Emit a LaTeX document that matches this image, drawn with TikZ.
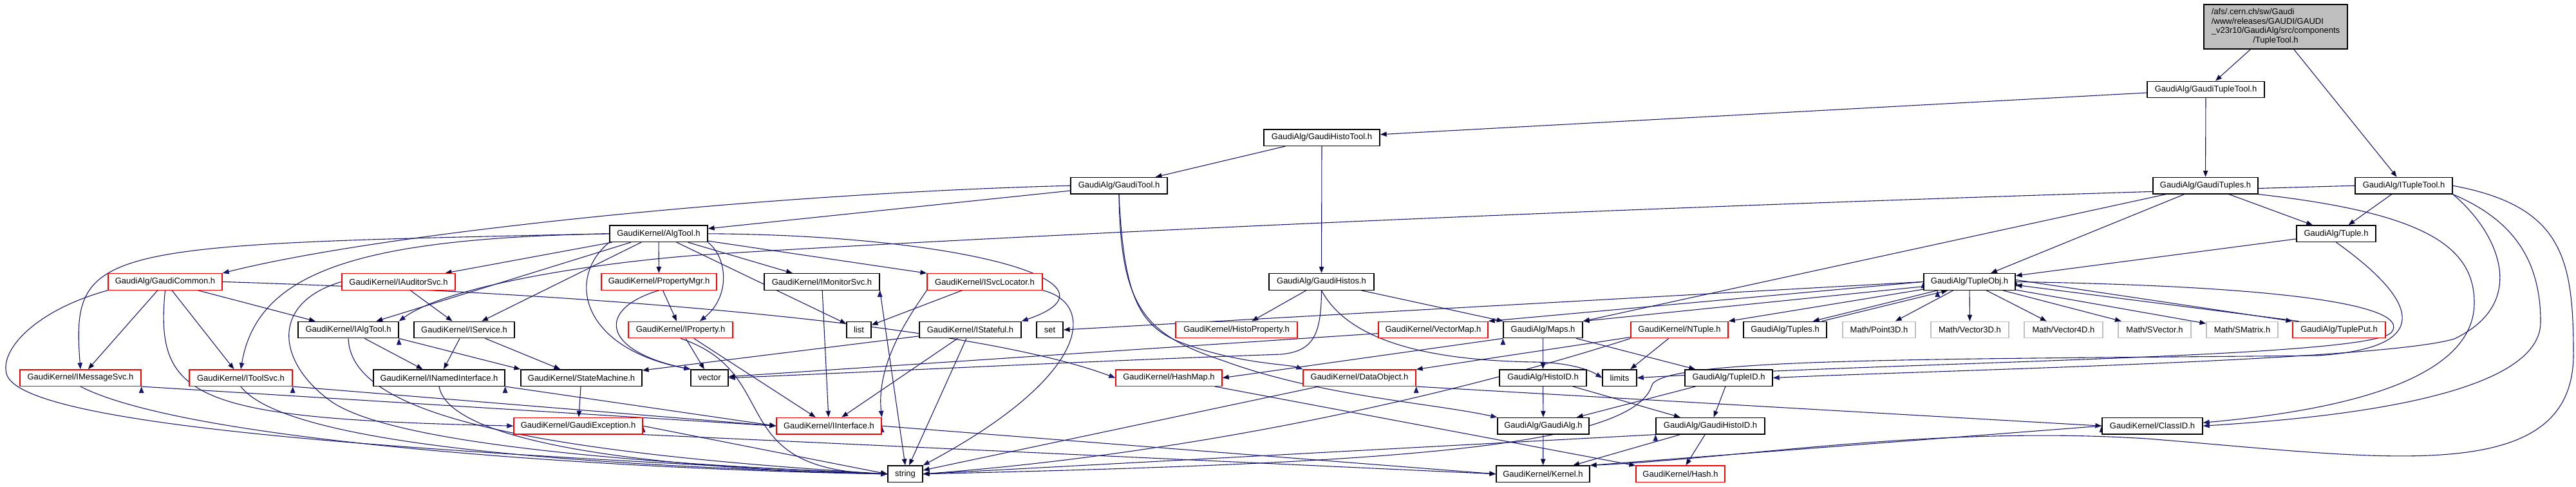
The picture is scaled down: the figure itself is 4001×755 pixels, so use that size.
\documentclass[tikz,border=0pt]{standalone}
\usepackage{fontspec}
\setmainfont{Liberation Sans}
\usetikzlibrary{arrows.meta,backgrounds}
\definecolor{edgeblue}{HTML}{191970}
\definecolor{grey75}{HTML}{BFBFBF}

\begin{document}
\begin{tikzpicture}[x=1pt,y=-1pt,
    hdr/.style={draw=black, line width=1.3pt, fill=white, inner sep=0pt,
      minimum height=25.5pt, font=\fontsize{13}{14.8}\selectfont},
    hdrcut/.style={hdr, draw=red},
    hdrext/.style={hdr, draw=grey75},
    inc/.style={draw=edgeblue, line width=1.1pt, -{Triangle[length=10pt,width=7.5pt]}}]
  \useasboundingbox (0,0) rectangle (4001,755);
  % root file
  \node[hdr, fill=grey75, minimum width=223, minimum height=69] (tupletool) at (3534.5,41.5)
    {\begin{tabular}{@{}l@{}}/afs/.cern.ch/sw/Gaudi\\/www/releases/GAUDI/GAUDI\\\_v23r10/GaudiAlg/src/components\\\multicolumn{1}{@{}c@{}}{/TupleTool.h}\end{tabular}};
  % GaudiAlg tools
  \node[hdr, minimum width=182] (gauditupletool) at (3426,139) {GaudiAlg/GaudiTupleTool.h};
  \node[hdr, minimum width=180] (gaudihistotool) at (2053,213.6) {GaudiAlg/GaudiHistoTool.h};
  \node[hdr, minimum width=150] (gauditool) at (1738,288.2) {GaudiAlg/GaudiTool.h};
  \node[hdr, minimum width=163] (gaudituples) at (3425.5,288.2) {GaudiAlg/GaudiTuples.h};
  \node[hdr, minimum width=151] (itupletool) at (3733.5,288.2) {GaudiAlg/ITupleTool.h};
  \node[hdr, minimum width=152] (algtool) at (1023,362.8) {GaudiKernel/AlgTool.h};
  \node[hdr, minimum width=123] (tuple) at (3628.5,362.8) {GaudiAlg/Tuple.h};
  % row 5
  \node[hdrcut, minimum width=177] (gaudicommon) at (256.5,437.4) {GaudiAlg/GaudiCommon.h};
  \node[hdrcut, minimum width=176] (iauditorsvc) at (619,437.4) {GaudiKernel/IAuditorSvc.h};
  \node[hdrcut, minimum width=179] (propertymgr) at (1023.5,437.4) {GaudiKernel/PropertyMgr.h};
  \node[hdr, minimum width=179] (imonitorsvc) at (1276.5,437.4) {GaudiKernel/IMonitorSvc.h};
  \node[hdrcut, minimum width=179] (isvclocator) at (1529.5,437.4) {GaudiKernel/ISvcLocator.h};
  \node[hdr, minimum width=163] (gaudihistos) at (2052.5,437.4) {GaudiAlg/GaudiHistos.h};
  \node[hdr, minimum width=142] (tupleobj) at (3059,437.4) {GaudiAlg/TupleObj.h};
  % row 6
  \node[hdr, minimum width=156] (ialgtool) at (541,512) {GaudiKernel/IAlgTool.h};
  \node[hdr, minimum width=156] (iservice) at (721,512) {GaudiKernel/IService.h};
  \node[hdrcut, minimum width=162] (iproperty) at (1057,512) {GaudiKernel/IProperty.h};
  \node[hdr, minimum width=38] (list) at (1334,512) {list};
  \node[hdr, minimum width=158] (istateful) at (1507,512) {GaudiKernel/IStateful.h};
  \node[hdr, minimum width=41] (set) at (1630.5,512) {set};
  \node[hdrcut, minimum width=189] (histoproperty) at (1920.5,512) {GaudiKernel/HistoProperty.h};
  \node[hdrcut, minimum width=170] (vectormap) at (2226,512) {GaudiKernel/VectorMap.h};
  \node[hdr, minimum width=123] (maps) at (2396.5,512) {GaudiAlg/Maps.h};
  \node[hdrcut, minimum width=151] (ntuple) at (2608.5,512) {GaudiKernel/NTuple.h};
  \node[hdr, minimum width=129] (tuples) at (2772.5,512) {GaudiAlg/Tuples.h};
  \node[hdrext, minimum width=113] (point3d) at (2918.5,512) {Math/Point3D.h};
  \node[hdrext, minimum width=121] (vector3d) at (3059.5,512) {Math/Vector3D.h};
  \node[hdrext, minimum width=122] (vector4d) at (3205,512) {Math/Vector4D.h};
  \node[hdrext, minimum width=113] (svector) at (3346.5,512) {Math/SVector.h};
  \node[hdrext, minimum width=111] (smatrix) at (3482.5,512) {Math/SMatrix.h};
  \node[hdrcut, minimum width=144] (tupleput) at (3633,512) {GaudiAlg/TuplePut.h};
  % row 7
  \node[hdrcut, minimum width=188] (imessagesvc) at (125,586.6) {GaudiKernel/IMessageSvc.h};
  \node[hdrcut, minimum width=160] (itoolsvc) at (374,586.6) {GaudiKernel/IToolSvc.h};
  \node[hdr, minimum width=204] (inamedinterface) at (682,586.6) {GaudiKernel/INamedInterface.h};
  \node[hdr, minimum width=188] (statemachine) at (903,586.6) {GaudiKernel/StateMachine.h};
  \node[hdr, minimum width=58] (vector) at (1102,586.6) {vector};
  \node[hdrcut, minimum width=165] (hashmap) at (1815.5,586.6) {GaudiKernel/HashMap.h};
  \node[hdrcut, minimum width=175] (dataobject) at (2111.5,586.6) {GaudiKernel/DataObject.h};
  \node[hdr, minimum width=135] (histoid) at (2396.5,586.6) {GaudiAlg/HistoID.h};
  \node[hdr, minimum width=53] (limits) at (2515.5,586.6) {limits};
  \node[hdr, minimum width=136] (tupleid) at (2685,586.6) {GaudiAlg/TupleID.h};
  % row 8
  \node[hdrcut, minimum width=200] (gaudiexception) at (898,661.2) {GaudiKernel/GaudiException.h};
  \node[hdrcut, minimum width=163] (iinterface) at (1287.5,661.2) {GaudiKernel/IInterface.h};
  \node[hdr, minimum width=142] (gaudialg) at (2397,661.2) {GaudiAlg/GaudiAlg.h};
  \node[hdr, minimum width=169] (gaudihistoid) at (2656.5,661.2) {GaudiAlg/GaudiHistoID.h};
  \node[hdr, minimum width=156] (classid) at (3343,661.2) {GaudiKernel/ClassID.h};
  % row 9
  \node[hdr, minimum width=54] (string) at (1406,735.8) {string};
  \node[hdr, minimum width=145] (kernel) at (2396.5,735.8) {GaudiKernel/Kernel.h};
  \node[hdrcut, minimum width=138] (hash) at (2610,735.8) {GaudiKernel/Hash.h};

  \begin{scope}[on background layer]
    % top of the graph
    \path[inc] (tupletool) edge (gauditupletool) edge (itupletool);
    \path[inc] (gauditupletool) edge (gaudihistotool) edge (gaudituples);
    \path[inc] (gaudihistotool) edge (gauditool) edge (gaudihistos);
    % GaudiTool.h
    \path[inc] (gauditool) edge (algtool);
    \draw[inc] (gauditool.west) .. controls (1200,300) and (600,360) .. (gaudicommon.north east);
    \draw[inc] (gauditool.south) .. controls (1745,460) and (1770,505) .. (1830,530) .. controls (1920,565) and (2000,565) .. (dataobject.north west);
    \draw[inc] (gauditool.south) .. controls (1740,480) and (1780,520) .. (1900,560) .. controls (2050,615) and (2220,625) .. (gaudialg.north west);
    % GaudiTuples.h
    \path[inc] (gaudituples) edge (maps) edge (tupleobj) edge (tuple);
    \draw[inc] (gaudituples.south east) .. controls (3760,330) and (3843,380) .. (3843,470) .. controls (3843,600) and (3600,640) .. ([yshift=5pt]classid.east);
    % ITupleTool.h
    \path[inc] (itupletool) edge (tuple);
    \draw[inc] (itupletool.west) .. controls (2500,320) and (1500,370) .. (1100,395) .. controls (950,405) and (700,440) .. (ialgtool.north east);
    \draw[inc] (itupletool.south east) .. controls (3880,360) and (3930,470) .. (3812,526) .. controls (3700,560) and (3000,575) .. (tupleid.east);
    \draw[inc] (itupletool.south east) .. controls (3900,340) and (3946,400) .. (3946,500) .. controls (3946,620) and (3600,650) .. (classid.east);
    \draw[inc] (itupletool.east) .. controls (3980,320) and (3997,400) .. (3997,550) .. controls (3997,760) and (3700,710) .. (3335,681) .. controls (3000,660) and (2700,712) .. (kernel.north east);
    % Tuple.h
    \path[inc] (tuple) edge (tupleobj);
    \draw[inc] (tuple.south) .. controls (3760,470) and (3780,540) .. (3600,552) .. controls (3000,558) and (2570,555) .. (2565,600) .. controls (2530,700) and (2100,720) .. (string.east);
    % AlgTool.h
    \path[inc] (algtool) edge (iauditorsvc) edge (iservice) edge (ialgtool) edge (propertymgr) edge (imonitorsvc) edge (list) edge (isvclocator);
    \draw[inc] (algtool.south east) .. controls (1130,400) and (1135,460) .. ([xshift=30pt]iproperty.north);
    \draw[inc] (algtool.south west) .. controls (880,430) and (900,540) .. (vector.north west);
    \draw[inc] (algtool.east) .. controls (1500,365) and (1760,440) .. (istateful.north east);
    \draw[inc] (algtool.west) .. controls (150,380) and (110,380) .. (imessagesvc.north);
    \draw[inc] (algtool.west) .. controls (560,370) and (400,420) .. (itoolsvc.north);
    % GaudiCommon.h
    \path[inc] (gaudicommon) edge (imessagesvc) edge (itoolsvc) edge (ialgtool);
    \draw[inc] (gaudicommon.south) .. controls (240,620) and (300,650) .. (gaudiexception.west);
    \draw[inc] (gaudicommon.east) .. controls (900,455) and (1500,500) .. (hashmap.west);
    \draw[inc] (gaudicommon.south west) .. controls (60,480) and (0,540) .. (10,580) .. controls (30,660) and (600,700) .. (string.west);
    % services
    \path[inc] (iauditorsvc) edge (iservice);
    \draw[inc] (iauditorsvc.west) .. controls (420,470) and (430,560) .. (510,620) .. controls (600,690) and (1000,720) .. (string.west);
    \path[inc] (propertymgr) edge (iproperty);
    \draw[inc] (propertymgr.south) .. controls (925,480) and (935,545) .. (vector.north west);
    \path[inc] (imonitorsvc) edge (iinterface) (imonitorsvc.south east) edge (string.north);
    \path[inc] (isvclocator) edge (list);
    \draw[inc] (isvclocator.south west) .. controls (1420,480) and (1360,560) .. (iinterface.north east);
    \draw[inc] (isvclocator.south east) .. controls (1700,470) and (1700,580) .. (string.north east);
    % GaudiHistos.h
    \path[inc] (gaudihistos) edge (histoproperty) edge (maps);
    \draw[inc] (gaudihistos.south) .. controls (2052,520) and (2040,545) .. (1990,550) .. controls (1700,560) and (1300,580) .. (vector.east);
    \draw[inc] (gaudihistos.south) .. controls (2100,540) and (2250,560) .. (2384,562) .. controls (2440,563) and (2470,575) .. (limits.west);
    % TupleObj.h
    \path[inc] (tupleobj) edge (point3d) edge (vector3d) edge (vector4d) edge (svector) edge (smatrix)
      edge (ntuple.north east) edge (maps.north east);
    \path[inc] (tupleobj.west) edge (vectormap.north east) edge (set.east);
    \path[inc] ([yshift=3pt]tupleobj.east) edge (tupleput.north west);
    \path[inc] ([xshift=10pt]tupleput.north west) edge ([yshift=-5pt]tupleobj.east);
    \path[inc] ([xshift=22pt]tupleobj.south west) edge ([xshift=-22pt]tuples.north east);
    \path[inc] ([xshift=-8pt]tuples.north east) edge ([xshift=38pt]tupleobj.south west);
    \draw[inc] (tupleobj.east) .. controls (3600,445) and (3740,480) .. (3715,515) .. controls (3690,555) and (3000,560) .. (limits.east);
    % interfaces
    \path[inc] (ialgtool) edge (inamedinterface) (ialgtool.south east) edge (statemachine.north west);
    \draw[inc] (ialgtool.south) .. controls (545,640) and (800,700) .. (string.west);
    \path[inc] (iservice) edge (inamedinterface) edge (statemachine);
    \path[inc] (iproperty) edge (vector) edge (iinterface);
    \draw[inc] (iproperty.south) .. controls (1220,580) and (1120,730) .. (string.west);
    \path[inc] (istateful) edge (statemachine) edge (iinterface) edge (string);
    \path[inc] (vectormap) edge (vector);
    \path[inc] (maps) edge (histoid) edge (tupleid) (maps.south west) edge (hashmap.east);
    \path[inc] (ntuple) edge (dataobject) edge (limits);
    \draw[inc] (ntuple.south west) .. controls (2300,600) and (1900,700) .. (string.east);
    \path[inc] (imessagesvc.south east) edge (iinterface.west);
    \draw[inc] (imessagesvc.south) .. controls (300,690) and (1000,730) .. (string.west);
    \path[inc] (itoolsvc.south east) edge (iinterface.west);
    \draw[inc] (itoolsvc.south) .. controls (450,700) and (1000,725) .. (string.west);
    \path[inc] (inamedinterface.south east) edge (iinterface.west);
    \draw[inc] (inamedinterface.south) .. controls (700,700) and (1100,730) .. (string.west);
    \path[inc] (statemachine) edge (gaudiexception);
    \path[inc] (hashmap) edge (hash);
    \path[inc] (dataobject.south east) edge (classid.west) (dataobject) edge (string);
    % bottom rows
    \path[inc] (histoid) edge (gaudialg) edge (gaudihistoid);
    \path[inc] (tupleid) edge (gaudialg) edge (gaudihistoid);
    \path[inc] (gaudiexception.south east) edge (kernel.west) (gaudiexception.east) edge (string.west);
    \path[inc] (iinterface.east) edge (kernel.west);
    \path[inc] (gaudialg) edge (kernel);
    \path[inc] (gaudihistoid) edge (kernel) edge (hash) (gaudihistoid.south west) edge (string.east);
    \path[inc] (classid.west) edge (kernel.north east);
  \end{scope}
\end{tikzpicture}
\end{document}
